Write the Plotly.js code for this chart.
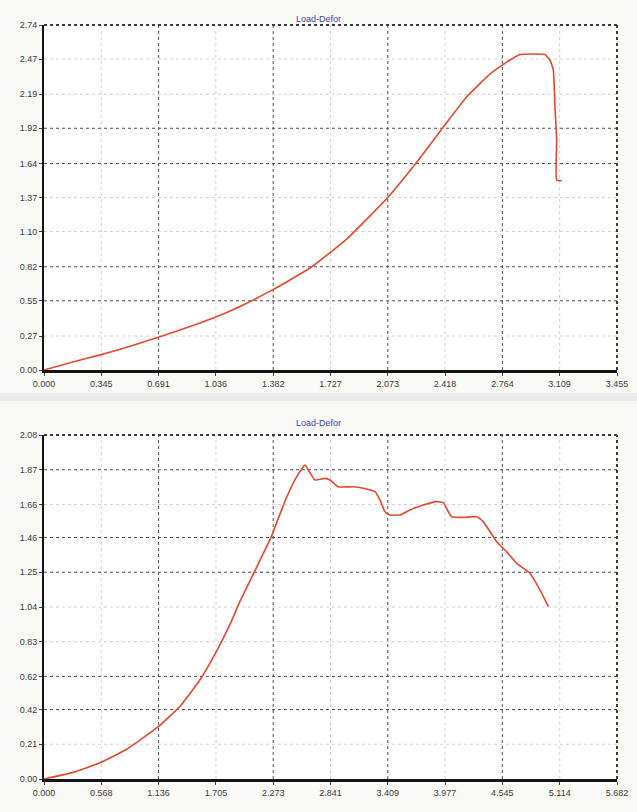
<!DOCTYPE html>
<html>
<head>
<meta charset="utf-8">
<script src="https://cdn.plot.ly/plotly-3.0.1.min.js"></script>
<style>
  html, body { margin: 0; padding: 0; background: #f9f9f6; }
  #chart { width: 637px; height: 812px; }
</style>
</head>
<body>
<div id="chart"></div>
<script>
// Test 1: load vs. deformation
const topDefor = [0, 0.157, 0.338, 0.519, 0.689, 0.880, 1.021, 1.182, 1.383, 1.604, 1.825,
  2.066, 2.247, 2.408, 2.549, 2.689, 2.790, 2.870, 3.021, 3.051, 3.071, 3.081, 3.091, 3.091, 3.122];
const topLoad = [0, 0.058, 0.120, 0.188, 0.260, 0.345, 0.413, 0.505, 0.640, 0.810, 1.040,
  1.360, 1.650, 1.930, 2.170, 2.350, 2.445, 2.505, 2.505, 2.460, 2.383, 2.091, 1.827, 1.509, 1.503];

// Test 2: load vs. deformation
const botDefor = [0, 0.291, 0.555, 0.820, 1.133, 1.349, 1.547, 1.713, 1.844, 1.944, 2.092, 2.258,
  2.307, 2.407, 2.506, 2.588, 2.621, 2.687, 2.786, 2.836, 2.918, 3.067, 3.166, 3.282, 3.332, 3.381,
  3.431, 3.530, 3.629, 3.761, 3.894, 3.960, 4.009, 4.043, 4.158, 4.291, 4.356, 4.489, 4.588, 4.687,
  4.819, 4.918, 5.001];
const botLoad = [0, 0.040, 0.098, 0.180, 0.316, 0.440, 0.600, 0.775, 0.935, 1.075, 1.260, 1.470,
  1.550, 1.705, 1.828, 1.899, 1.868, 1.808, 1.818, 1.808, 1.767, 1.767, 1.758, 1.737, 1.687, 1.616,
  1.596, 1.596, 1.627, 1.657, 1.677, 1.671, 1.616, 1.586, 1.582, 1.586, 1.556, 1.435, 1.374, 1.304,
  1.244, 1.143, 1.042];

// Tick labels
const topXTicks = ['0.000', '0.345', '0.691', '1.036', '1.382', '1.727', '2.073', '2.418', '2.764', '3.109', '3.455'];
const topYTicks = ['0.00', '0.27', '0.55', '0.82', '1.10', '1.37', '1.64', '1.92', '2.19', '2.47', '2.74'];
const botXTicks = ['0.000', '0.568', '1.136', '1.705', '2.273', '2.841', '3.409', '3.977', '4.545', '5.114', '5.682'];
const botYTicks = ['0.00', '0.21', '0.42', '0.62', '0.83', '1.04', '1.25', '1.46', '1.66', '1.87', '2.08'];

// Gridlines drawn darker than the rest
const topXDark = [0.691, 1.382, 2.073, 2.764];
const topYDark = [0.55, 0.82, 1.64, 1.92];
const botXDark = [1.136, 2.273, 3.409, 4.545];
const botYDark = [0.42, 0.62, 1.25, 1.46, 1.87];

const chartTitle = 'Load-Defor';

const num = a => a.map(Number);
const lineColor = '#e5482c';
const tickFont = { family: 'Liberation Sans, Arial, sans-serif', size: 9, color: '#3a3a3a' };

function axis(domain, ticks, anchor, lw) {
  const vals = num(ticks);
  return {
    domain: domain, anchor: anchor, range: [0, vals[vals.length - 1]],
    tickmode: 'array', tickvals: vals, ticktext: ticks,
    showgrid: false, zeroline: false, showline: true, linecolor: '#141414', linewidth: lw,
    ticks: 'outside', ticklen: 3, tickcolor: '#444', tickfont: tickFont, fixedrange: true
  };
}

const lightLine = { color: '#d2d2d2', width: 1, dash: 'dot' };
const darkLine = { color: '#505050', width: 1, dash: 'dot' };
const frameLine = { color: '#3a3a3a', width: 2, dash: 'dot' };

// Gridlines for one panel: light at every inner tick, darker at the listed ones
function grid(xTicks, yTicks, xDark, yDark, xr, yr) {
  const out = [];
  const xv = num(xTicks).slice(1, -1), yv = num(yTicks).slice(1, -1);
  xv.forEach(v => out.push({ type: 'line', layer: 'below', xref: xr, yref: yr + ' domain',
    x0: v, x1: v, y0: 0, y1: 1, line: xDark.includes(v) ? darkLine : lightLine }));
  yv.forEach(v => out.push({ type: 'line', layer: 'below', xref: xr + ' domain', yref: yr,
    x0: 0, x1: 1, y0: v, y1: v, line: yDark.includes(v) ? darkLine : lightLine }));
  // dotted frame on the top and right
  out.push({ type: 'line', layer: 'below', xref: xr + ' domain', yref: yr + ' domain',
    x0: 0, x1: 1, y0: 1, y1: 1, line: frameLine });
  out.push({ type: 'line', layer: 'below', xref: xr + ' domain', yref: yr + ' domain',
    x0: 1, x1: 1, y0: 0, y1: 1, line: frameLine });
  return out;
}

const traces = [
  { x: topDefor, y: topLoad, xaxis: 'x', yaxis: 'y', type: 'scatter', mode: 'lines',
    line: { color: lineColor, width: 1.6, shape: 'spline', smoothing: 0.4 }, hoverinfo: 'skip' },
  { x: botDefor, y: botLoad, xaxis: 'x2', yaxis: 'y2', type: 'scatter', mode: 'lines',
    line: { color: lineColor, width: 1.6, shape: 'spline', smoothing: 0.4 }, hoverinfo: 'skip' }
];

const xDom = [44 / 637, 617 / 637];
const layout = {
  width: 637, height: 812,
  margin: { l: 0, r: 0, t: 0, b: 0 },
  paper_bgcolor: '#f9f9f6', plot_bgcolor: '#ffffff',
  showlegend: false,
  xaxis: axis(xDom, topXTicks, 'y', 3),
  yaxis: axis([1 - 370 / 812, 1 - 25 / 812], topYTicks, 'x', 2),
  xaxis2: axis(xDom, botXTicks, 'y2', 3),
  yaxis2: axis([1 - 779 / 812, 1 - 435 / 812], botYTicks, 'x2', 2),
  shapes: [
    { type: 'rect', layer: 'below', xref: 'paper', yref: 'paper', x0: 0, x1: 1,
      y0: 1 - 401 / 812, y1: 1 - 393 / 812, fillcolor: '#ebebeb', line: { width: 0 } }
  ].concat(grid(topXTicks, topYTicks, topXDark, topYDark, 'x', 'y'),
           grid(botXTicks, botYTicks, botXDark, botYDark, 'x2', 'y2')),
  annotations: [
    { text: chartTitle, xref: 'paper', yref: 'paper', x: 318 / 637, y: 1 - 12 / 812,
      showarrow: false, font: { family: 'Liberation Sans, Arial, sans-serif', size: 9, color: '#4444aa' } },
    { text: chartTitle, xref: 'paper', yref: 'paper', x: 318 / 637, y: 1 - 423 / 812,
      showarrow: false, font: { family: 'Liberation Sans, Arial, sans-serif', size: 9, color: '#4444aa' } }
  ]
};

Plotly.newPlot('chart', traces, layout, { displayModeBar: false, staticPlot: true });
</script>
</body>
</html>
